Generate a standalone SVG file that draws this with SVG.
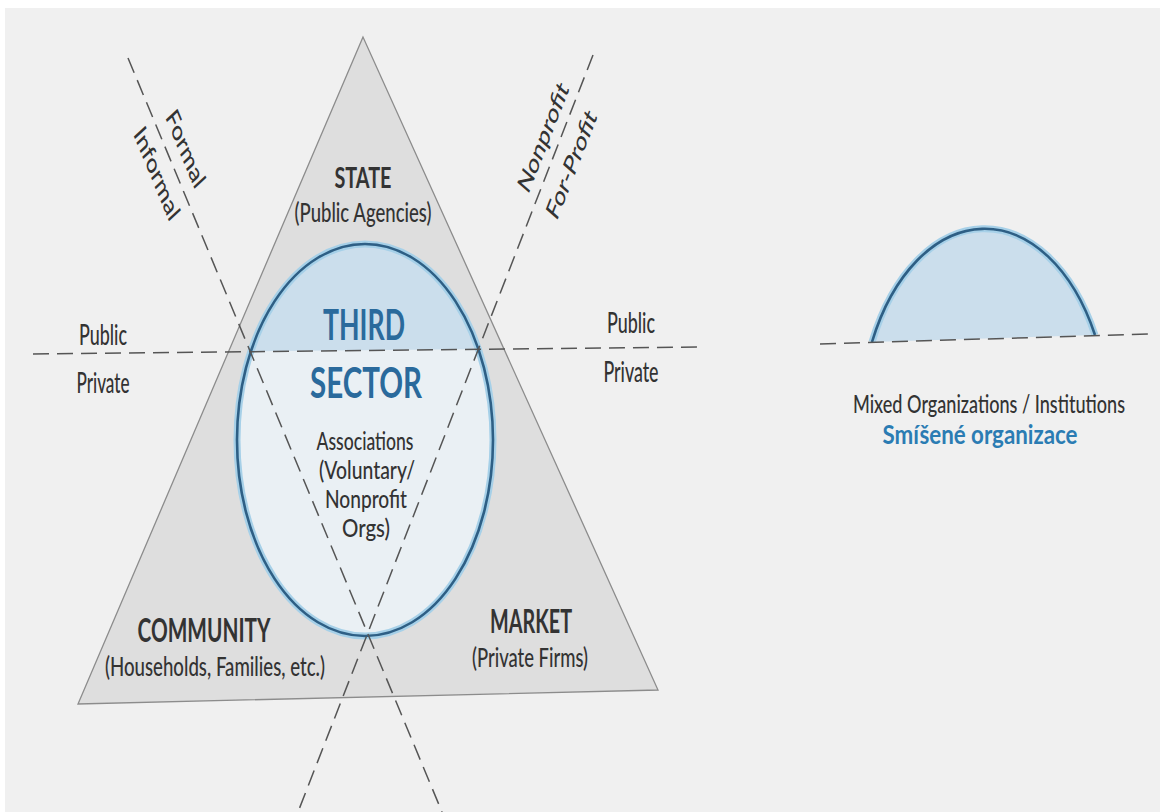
<svg xmlns="http://www.w3.org/2000/svg" width="1160" height="812" viewBox="0 0 1160 812">
  <defs>
    <style>
      text { font-family: Lato, "Open Sans", "Liberation Sans", sans-serif; font-weight: 500; fill: #333333; text-anchor: middle; }
      .head { font-weight: 700; }
      .blue { fill: #2a6a9c; font-weight: 700; }
      .czech { fill: #2b7cb3; font-weight: 700; }
      .axis-label { font-size: 19px; }
      .dash { fill: none; stroke: #555; stroke-width: 1.5; stroke-dasharray: 16 8; }
      .tri { fill: #dedede; stroke: #8c8c8c; stroke-width: 1.3; }
      .ring-glow { fill: none; stroke: #a6d0e8; stroke-width: 7; }
      .ring { fill: none; stroke: #2e5f85; stroke-width: 2.6; }
      .public-fill { fill: #cbdeec; }
    </style>
    <clipPath id="above-line">
      <polygon points="0,0 1160,0 1160,342 0,354"/>
    </clipPath>
  </defs>

  <!-- paper -->
  <rect x="0" y="0" width="1160" height="812" fill="#ffffff"/>
  <rect x="5" y="8" width="1155" height="804" fill="#f0f0f0"/>

  <!-- sector triangle -->
  <g id="triangle">
    <polygon class="tri" points="363,37 78,704 658,690"/>
  </g>

  <!-- third sector circle -->
  <g id="node-third-sector">
    <ellipse cx="365" cy="440" rx="128" ry="196" fill="#eaf0f4"/>
    <ellipse cx="365" cy="440" rx="128" ry="196" class="public-fill" clip-path="url(#above-line)"/>
    <ellipse cx="365" cy="440" rx="128" ry="196" class="ring-glow"/>
    <ellipse cx="365" cy="440" rx="128" ry="196" class="ring"/>
  </g>

  <!-- mixed organizations arc -->
  <g id="node-mixed">
    <path d="M872,342 A125,200 0 0 1 1095,335 Z" class="public-fill"/>
    <path d="M872,342 A125,200 0 0 1 1095,335" class="ring-glow"/>
    <path d="M872,342 A125,200 0 0 1 1095,335" class="ring"/>
    <text transform="translate(989,413) scale(1,1.3)" font-size="18.5" textLength="272" lengthAdjust="spacingAndGlyphs">Mixed Organizations / Institutions</text>
    <text transform="translate(980,444) scale(1,1.2)" font-size="22" class="czech" textLength="195" lengthAdjust="spacingAndGlyphs">Smíšené organizace</text>
  </g>

  <!-- dividing axes -->
  <g id="connectors">
    <line class="dash" x1="33" y1="354" x2="697" y2="347"/>
    <line class="dash" x1="820" y1="344" x2="1148" y2="334"/>
    <line class="dash" x1="128" y1="58" x2="442" y2="812"/>
    <line class="dash" x1="593" y1="55" x2="298" y2="812"/>
  </g>

  <!-- axis labels -->
  <g id="label-formal">
    <g transform="translate(170.5,161) scale(1,1.5) rotate(58.3)">
      <text class="axis-label" x="1" y="-10.6">Formal</text>
      <text class="axis-label" x="0" y="22.5">Informal</text>
    </g>
  </g>
  <g id="label-profit">
    <g transform="translate(556,151) scale(1,1.5) rotate(-59.7)">
      <text class="axis-label" x="1.5" y="-9.1">Nonprofit</text>
      <text class="axis-label" x="0" y="24.4">For-Profit</text>
    </g>
  </g>
  <g id="label-public-private-left">
    <text transform="translate(103,345) scale(1,1.55)" font-size="18" textLength="48" lengthAdjust="spacingAndGlyphs">Public</text>
    <text transform="translate(103,393) scale(1,1.55)" font-size="18" textLength="53" lengthAdjust="spacingAndGlyphs">Private</text>
  </g>
  <g id="label-public-private-right">
    <text transform="translate(631,333) scale(1,1.55)" font-size="18" textLength="48" lengthAdjust="spacingAndGlyphs">Public</text>
    <text transform="translate(631,382) scale(1,1.55)" font-size="18" textLength="55" lengthAdjust="spacingAndGlyphs">Private</text>
  </g>

  <!-- sector names -->
  <g id="node-state">
    <text transform="translate(363,188) scale(1,1.55)" font-size="19" class="head" textLength="57" lengthAdjust="spacingAndGlyphs">STATE</text>
    <text transform="translate(363,222) scale(1,1.45)" font-size="18.5" textLength="137" lengthAdjust="spacingAndGlyphs">(Public Agencies)</text>
  </g>
  <g id="node-third-sector-label">
    <text transform="translate(364,340) scale(1,1.5)" font-size="27.5" class="blue" textLength="82" lengthAdjust="spacingAndGlyphs">THIRD</text>
    <text transform="translate(366,398) scale(1,1.5)" font-size="27.5" class="blue" textLength="112" lengthAdjust="spacingAndGlyphs">SECTOR</text>
    <text transform="translate(365,450) scale(1,1.34)" font-size="18" textLength="97" lengthAdjust="spacingAndGlyphs">Associations</text>
    <text transform="translate(367,479) scale(1,1.34)" font-size="18" textLength="96" lengthAdjust="spacingAndGlyphs">(Voluntary/</text>
    <text transform="translate(366,508) scale(1,1.34)" font-size="18" textLength="82" lengthAdjust="spacingAndGlyphs">Nonprofit</text>
    <text transform="translate(366,537) scale(1,1.34)" font-size="18" textLength="48" lengthAdjust="spacingAndGlyphs">Orgs)</text>
  </g>
  <g id="node-community">
    <text transform="translate(204,642) scale(1,1.55)" font-size="20.8" class="head" textLength="133" lengthAdjust="spacingAndGlyphs">COMMUNITY</text>
    <text transform="translate(215,676) scale(1,1.45)" font-size="18.7" textLength="220" lengthAdjust="spacingAndGlyphs">(Households, Families, etc.)</text>
  </g>
  <g id="node-market">
    <text transform="translate(531,633) scale(1,1.6)" font-size="19.9" class="head" textLength="82" lengthAdjust="spacingAndGlyphs">MARKET</text>
    <text transform="translate(530,667) scale(1,1.45)" font-size="18.3" textLength="116" lengthAdjust="spacingAndGlyphs">(Private Firms)</text>
  </g>
</svg>
